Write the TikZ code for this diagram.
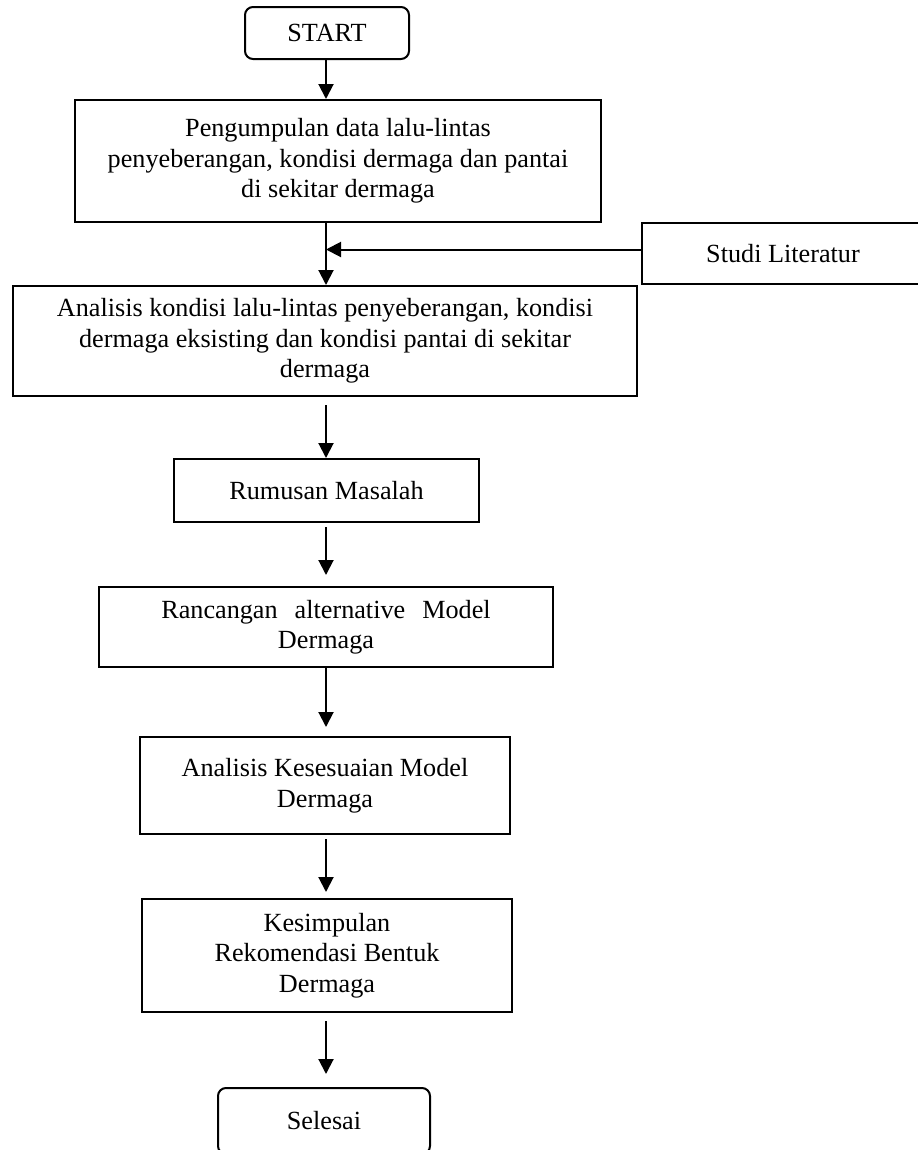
\documentclass[tikz,border=0pt]{standalone}
\usepackage{fontspec}
\setmainfont{Liberation Serif}
\usetikzlibrary{arrows.meta,calc}
\begin{document}
\begin{tikzpicture}[x=1bp,y=-1bp,
  box/.style={draw, line width=2bp, inner sep=0pt, align=center,
    font=\fontsize{26.2bp}{30.5bp}\selectfont},
  roundbox/.style={box, rounded corners=8bp},
  arr/.style={line width=2bp, -{Triangle[width=15bp,length=15bp]}}]
\useasboundingbox (0,0) rectangle (918,1150);
\fill[white] (0,0) rectangle (918,1150);
\clip (0,0) rectangle (918,1150);
\coordinate (spine) at (326,0);

\node[roundbox, minimum width=164bp, minimum height=52bp] (start) at (327,33) {START};
\node[box, minimum width=526bp, minimum height=122bp] (collect) at (338,161)
  {Pengumpulan data lalu-lintas\\penyeberangan, kondisi dermaga dan pantai\\di sekitar dermaga};
\node[box, minimum width=282bp, minimum height=61bp] (studi) at (783,253.5) {Studi Literatur};
\node[box, minimum width=624bp, minimum height=110bp] (anal) at (325,341)
  {Analisis kondisi lalu-lintas penyeberangan, kondisi\\dermaga eksisting dan kondisi pantai di sekitar\\dermaga};
\node[box, minimum width=305bp, minimum height=63bp] (rumusan) at (326.5,490.5) {Rumusan Masalah};
\node[box, minimum width=454bp, minimum height=80bp] (rancangan) at (326,627)
  {Rancangan\hskip 0.65em alternative\hskip 0.65em Model\\Dermaga};
\node[box, minimum width=370bp, minimum height=97bp] (sesuai) at (325,785.5)
  {Analisis Kesesuaian Model\\Dermaga};
\node[box, minimum width=370bp, minimum height=113bp] (simpul) at (327,955.5)
  {Kesimpulan\\Rekomendasi Bentuk\\Dermaga};
\node[roundbox, minimum width=212bp, minimum height=66bp] (selesai) at (324,1121) {Selesai};

\coordinate (lit) at ($(studi.west)+(0,-4)$);

\draw[arr] (spine |- start.south) -- (spine |- collect.north);
\draw[arr] (spine |- collect.south) -- (spine |- anal.north);
\draw[arr] (lit) -- (lit -| spine);
\draw[arr, shorten <=8bp] (spine |- anal.south) -- (spine |- rumusan.north);
\draw[arr, shorten <=4bp, shorten >=11bp] (spine |- rumusan.south) -- (spine |- rancangan.north);
\draw[arr, shorten >=9bp] (spine |- rancangan.south) -- (spine |- sesuai.north);
\draw[arr, shorten <=4bp, shorten >=6bp] (spine |- sesuai.south) -- (spine |- simpul.north);
\draw[arr, shorten <=8bp, shorten >=13bp] (spine |- simpul.south) -- (spine |- selesai.north);
\end{tikzpicture}
\end{document}
